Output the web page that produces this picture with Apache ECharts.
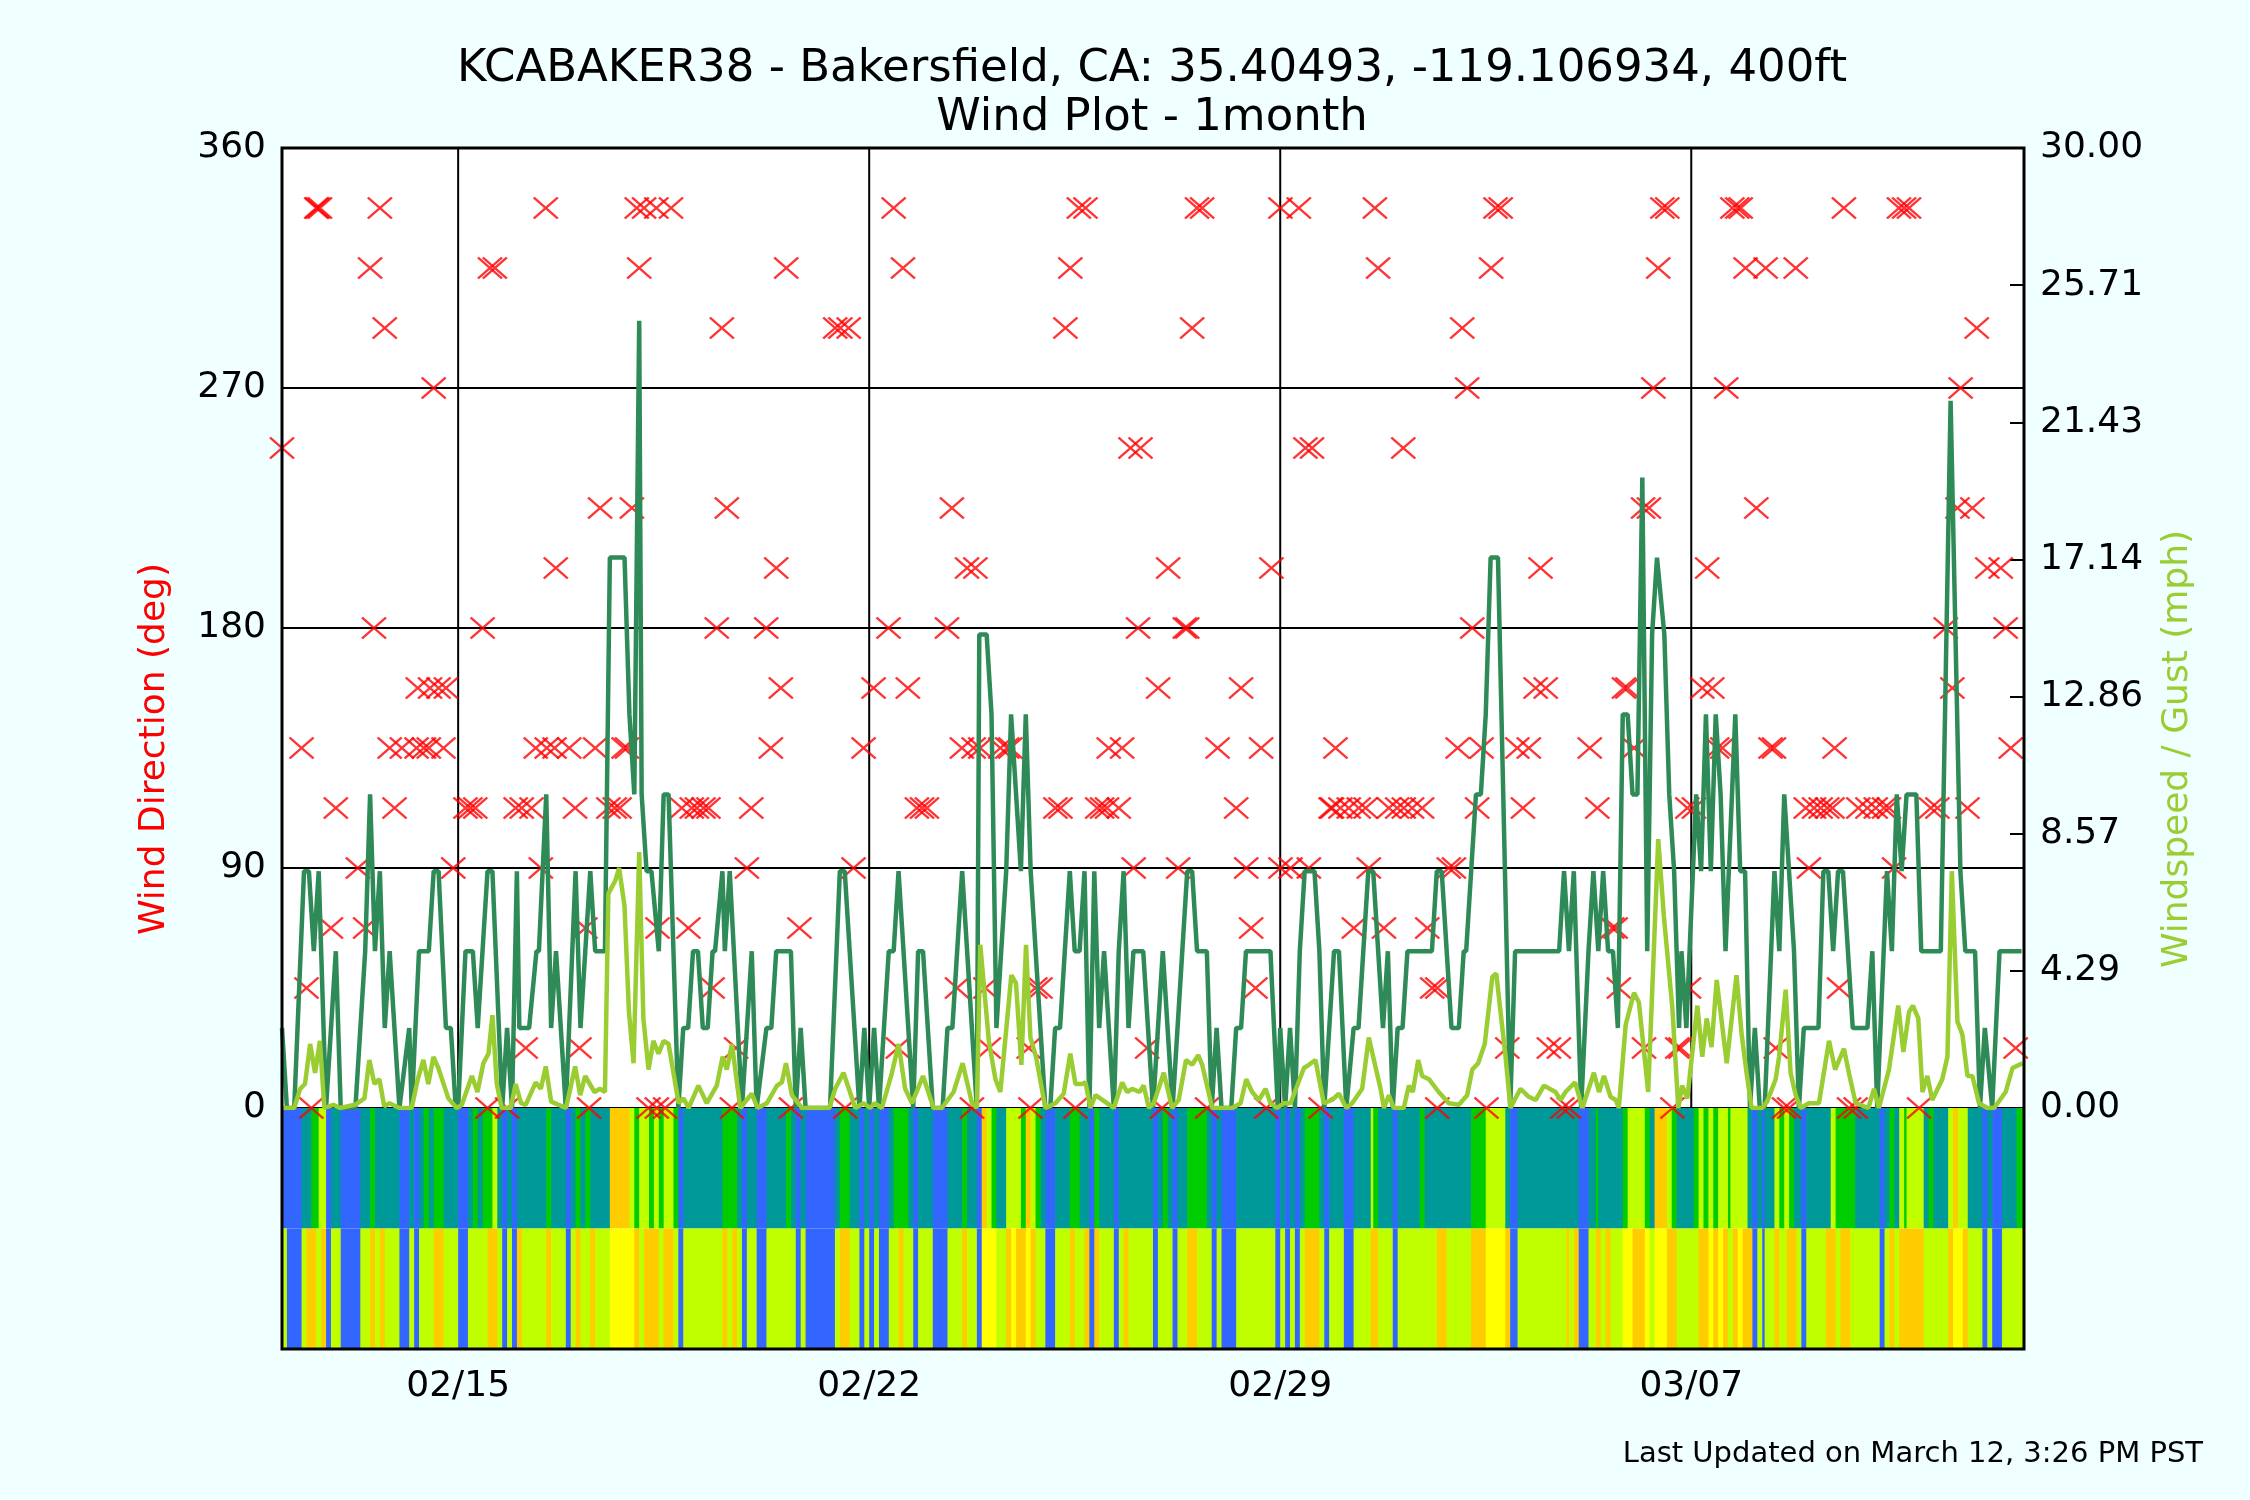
<!DOCTYPE html>
<html><head><meta charset="utf-8">
<script src="https://cdn.jsdelivr.net/npm/echarts@6/dist/echarts.min.js"></script>
<style>html,body{margin:0;padding:0;background:#f0ffff}#c{width:2250px;height:1500px}</style>
</head><body><div id="c"></div><script>
// x values are hours since 2016-02-12 00:00
const xMaxHours = 712;
const titleLine1 = 'KCABAKER38 - Bakersfield, CA: 35.40493, -119.106934, 400ft';
const titleLine2 = 'Wind Plot - 1month';
const footerText = 'Last Updated on March 12, 3:26 PM PST';
const weekTickHours = [72, 240, 408, 576];
const weekTickLabels = ['02/15', '02/22', '02/29', '03/07'];

const gustMph = [
[0,2.5],[2,0],[5,0],[9,7.4],[11,7.4],[13,4.9],[15,7.4],[18,0],[22,4.9],[24,0],[30,0],[34,4.9],[36,9.8],[38,4.9],[40,7.4],[42,2.5],[44,4.9],[48,0],[52,2.5],[53,0],[56,4.9],[60,4.9],[62,7.4],[64,7.4],[67,2.5],[69,2.5],[71,0],
[72,0],[75,4.9],[78,4.9],[80,2.5],[84,7.4],[86,7.4],[90,0],[92,2.5],[94,0],[96,7.4],[97,2.5],[101,2.5],[104,4.9],[105,4.9],[108,9.8],[110,2.5],[112,4.9],[116,0],[120,7.4],[122,2.5],[126,7.4],[128,4.9],[132,4.9],[134,17.2],[140,17.2],
[142,12.3],[144,9.8],[146,24.6],[147,9.8],[149,7.4],[151,7.4],[154,4.9],[156,9.8],[158,9.8],[162,0],[164,2.5],[166,2.5],[168,4.9],[170,4.9],[172,2.5],[174,2.5],[176,4.9],[177,4.9],[180,7.4],[181,4.9],[183,7.4],[188,0],[192,4.9],[194,0],[198,2.5],[200,2.5],[202,4.9],[208,4.9],[210,0],[212,2.5],[214,0],[224,0],[228,7.4],[230,7.4],[236,0],[238,2.5],[240,0],[242,2.5],[244,0],[248,4.9],[250,4.9],[252,7.4],[258,0],[260,4.9],[262,4.9],[266,0],[270,0],[272,2.5],[274,2.5],[278,7.4],[284,0],
[285,14.8],[288,14.8],[290,12.3],[292,2.5],[296,7.4],[298,12.3],[302,7.4],[304,12.3],[306,7.4],[312,0],[314,0],[316,2.5],[318,2.5],[322,7.4],[324,4.9],[326,4.9],[328,7.4],[330,0],[332,7.4],[334,2.5],[336,4.9],[340,0],[342,4.9],[344,7.4],[346,2.5],[348,4.9],[352,4.9],[356,0],[360,4.9],[364,0],[370,7.4],[372,7.4],[374,4.9],[378,4.9],[380,0],[382,2.5],[384,0],[388,0],[390,2.5],[392,2.5],[394,4.9],[404,4.9],[407,0],[408,2.5],[410,0],[412,2.5],[414,0],[416,4.9],[418,7.4],[422,7.4],[424,4.9],[426,0],
[430,4.9],[432,4.9],[435,0],[438,2.5],[440,2.5],[444,7.4],[446,7.4],[450,2.5],[452,4.9],[454,0],[456,2.5],[458,2.5],[460,4.9],[470,4.9],[472,7.4],[474,7.4],[478,2.5],[481,2.5],[483,4.9],[484,4.9],[488,9.8],[490,9.8],[492,12.3],[494,17.2],[497,17.2],[502,0],[504,4.9],[522,4.9],[524,7.4],[526,4.9],[528,7.4],[531,0],[534,4.9],[536,7.4],[538,4.9],[540,7.4],[542,4.9],[544,4.9],[546,2.5],[548,12.3],[550,12.3],[552,9.8],[554,9.8],[556,19.7],[558,4.9],[560,14.8],[562,17.2],[565,14.8],[567,9.8],[569,7.4],[571,2.5],
[572,4.9],[574,2.5],[578,9.8],[580,7.4],[582,12.3],[584,7.4],[586,12.3],[588,9.8],[590,4.9],[594,12.3],[596,7.4],[598,7.4],[600,0],[602,2.5],[604,0],[606,0],[610,7.4],[612,4.9],[614,9.8],[618,4.9],[620,0],[622,2.5],[628,2.5],[630,7.4],[632,7.4],[634,4.9],[636,7.4],[638,7.4],[642,2.5],[648,2.5],[650,4.9],[652,0],[656,7.4],[658,4.9],[660,9.8],[662,7.4],[664,9.8],[668,9.8],[670,4.9],[678,4.9],[682,22.1],[686,7.4],[688,4.9],[692,4.9],[694,0],[696,2.5],[699,0],[702,4.9],[711,4.9]
];

const windMph = [
[0,0],[5,0],[7.4,0.6],[9.4,0.75],[11.5,2.0],[13.5,1.1],[15.5,2.1],[17.3,0],[21,0.1],[23.7,0],[29.8,0.1],[33.7,0.3],[35.7,1.5],[37.8,0.75],[39.8,0.9],[41.8,0.05],[43.9,0.15],[48,0],[53,0],[55.5,0.9],[57.8,1.5],[59.8,0.75],[61.9,1.6],[63.9,1.25],[68,0.3],[71.4,0],[73.5,0.1],[77.6,1.0],[79.9,0.5],[82.3,1.4],[84.4,1.7],[86,2.9],[87.8,0.75],[89.8,0],[93.5,0],[95.5,0.75],[97.7,0.15],[99.6,0.1],[103.7,0.8],[105.8,0.6],[107.8,1.3],[110,0.2],[116.1,0],[119.8,1.3],[121.9,0.4],[123.9,1.0],[127.7,0.5],[130,0.6],[132,0.5],[133.4,6.7],[136.2,7.1],[137.8,7.5],[140,6.3],[141.8,3.0],[143.7,1.4],
[146,8.0],[147.7,2.8],[149.8,1.2],[151.8,2.1],[153.9,1.7],[156,2.1],[158,2.0],[162.1,0.15],[164.1,0.3],[166.2,0],[170.2,0.7],[173.6,0.15],[177.7,0.7],[180.1,1.6],[181.8,1.2],[183.9,2.0],[187.3,0],[192,0.45],[194.4,0],[198.2,0.15],[202.3,0.7],[204.3,0.8],[206,1.4],[208.4,0.4],[212.5,0],[223.7,0],[226.1,0.6],[229.5,1.1],[234.3,0],[237.7,0.15],[240.4,0],[242.2,0.15],[245.2,0],[249.3,1.1],[252,2.0],[254.7,0.6],[257.5,0.15],[262,1.0],[266.3,0],[269.7,0],[274.5,0.5],[278.2,1.4],[282,0.15],[284,0],
[285.4,5.1],[288.9,2.1],[291.6,0.9],[293.6,0.5],[298.1,4.15],[300,3.9],[302.2,1.35],[304.1,5.1],[305.9,2.2],[308.2,1.6],[312,0],[316.1,0.15],[319.5,0.45],[322.2,1.7],[324.3,0.75],[327,0.75],[328.4,0.8],[330.4,0],[332.5,0.4],[337.2,0.15],[340,0],[343.4,0.8],[345.4,0.5],[347.5,0.6],[350.5,0.5],[352.2,0.7],[354.3,0],[356.3,0.15],[360.4,1.1],[363.8,0],[366.5,0.25],[369.5,1.5],[372,1.35],[374.5,1.65],[376.1,1.35],[380.2,0],[388.4,0],[391.8,0.15],[394.1,0.9],[396.5,0.5],[399.3,0.25],[402,0.6],[404,0.15],[406.7,0],[409.5,0.15],[412.2,0.15],[417.7,1.25],[419.7,1.35],[422.4,1.5],[425.8,0.15],[429.2,0.25],
[432,0.45],[435,0],[437.4,0.15],[441.5,0.6],[444.2,2.2],[446.3,1.5],[449,0.6],[450.4,0],[452.4,0.4],[454.4,0],[458.5,0],[460.6,0.7],[462.2,0.5],[464.4,1.5],[466,1.0],[468.8,0.9],[472.8,0.5],[476.9,0.15],[481,0.1],[484.4,0.4],[486.5,1.2],[488.9,1.4],[491.6,2.0],[494.7,4.1],[496.3,4.2],[500.1,1.6],[502.1,0],[506.2,0.6],[509.6,0.35],[512.4,0.25],[515.8,0.7],[520.5,0.5],[522.6,0.25],[524.6,0.5],[528.5,0.8],[531.5,0],[536.2,1.1],[538.3,0.5],[540.3,1.0],[543,0.35],[545.1,0.25],[546.4,0],[549.2,2.6],[552.6,3.6],[554.6,3.3],[558.4,0.5],[562.5,8.4],[564.8,6.0],[568.3,3.1],[570.7,0],
[572.3,0.7],[574.4,0.3],[578.5,3.2],[580.5,1.6],[582.3,2.8],[584.3,1.9],[586.4,4.0],[590.5,1.4],[594.5,4.15],[596.6,2.3],[598.6,1.1],[600.7,0],[605,0],[607,0.2],[610.5,0.9],[611.9,1.6],[614.6,3.7],[616.6,1.1],[618.7,0.4],[620.7,0],[624.1,0.15],[628.2,0.15],[632.3,2.1],[634.8,1.2],[638.4,1.85],[640.7,1.0],[643.2,0.15],[648.4,0],[650.7,0.6],[652.7,0],[656.8,1.2],[660.6,3.2],[662.7,1.75],[665,3.0],[666.6,3.2],[668.8,2.8],[670.5,0.5],[672.5,1.0],[674.5,0.25],[678.6,0.9],[680.7,1.6],[682.5,7.4],[684.8,2.7],[686.8,2.3],[688.9,1.0],[690.9,1.0],[693.6,0.15],[697,0],[699.8,0],[704.5,0.5],[707.3,1.25],[711.4,1.4]
];

const windDirDeg = [
[0,247.5],[8,135],[10,45],[12,0],[14,337.5],[14.6,337.5],[15.5,337.5],[20,67.5],[22,112.5],[31,90],[34,67.5],[36,315],[37.6,180],[40,337.5],[42,292.5],[44,135],[46,112.5],[49,135],[55,135],[55.5,157.5],[58,135],[60,135],[60.5,157.5],[62,270],[64,157.5],[66,135],[67,157.5],[70,90],
[75,112.5],[77,112.5],[79,112.5],[82,180],[84,0],[85,315],[87,315],[92,0],[95.5,112.5],[98,112.5],[99.6,22.5],[102,112.5],[103.7,135],[105.8,90],[107.8,337.5],[108.2,135],[111.4,135],[111.9,202.5],[117.4,135],[119.8,112.5],[121.6,22.5],[124,67.5],[125.5,0],[128,135],[130,225],[133.4,112.5],[136,112.5],[138,112.5],[139.6,135],[141,135],
[143,225],[146,315],[145,337.5],[148,337.5],[153,337.5],[159,337.5],[149.8,0],[153.2,0],[156.6,0],[153.5,67.5],[163.4,112.5],[167.5,112.5],[169.6,112.5],[172.3,112.5],[174.3,112.5],[166.1,67.5],[176,45],[177.7,180],[179.8,292.5],[181.8,225],[183.9,0],[185.6,22.5],[190,90],[191.8,112.5],[197.9,180],[199.8,135],[202,202.5],[203.9,157.5],[206.1,315],[208,0],[211.5,67.5],[226.1,292.5],[228.2,292.5],[231.6,292.5],[230.2,0],[233.6,90],[237.7,135],[241.8,157.5],[247.9,180],[250,337.5],[251.7,22.5],[253.8,315],[255.8,157.5],[259.5,112.5],[261.6,112.5],[263.6,112.5],[271.8,180],[273.8,225],[275.9,45],[277.9,135],[280,202.5],[282,0],[282.7,135],
[283.4,202.5],[285.4,135],[287.5,45],[288.9,22.5],[293.6,135],[296.4,135],[297.7,135],[305.2,22.5],[305.9,0],[307.9,45],[310,45],[316.1,112.5],[318.2,112.5],[320.2,292.5],[322.2,315],[324.3,0],[325.7,337.5],[328.4,337.5],[333.2,112.5],[335.2,112.5],[337.2,112.5],[337.9,135],[342,112.5],[343.4,135],[346.8,247.5],[348.1,90],[349.9,180],[350.9,247.5],[353.6,22.5],[358.1,157.5],[359.7,0],[362.2,202.5],[366.3,90],[369,180],[370,180],[372,292.5],[374,337.5],[376.1,337.5],[378.1,0],[382.4,135],[390,112.5],[392,157.5],[394.1,90],[396.1,67.5],[397.9,45],[400.2,135],[402.3,0],[404.4,202.5],[408.1,337.5],[408.1,90],[412.2,90],[415.6,337.5],[418.3,247.5],[419.7,90],[421,247.5],[424.5,0],[428.6,112.5],[430.6,135],
[429.2,112.5],[432.6,112.5],[436,112.5],[438.1,67.5],[440.1,112.5],[442.9,112.5],[444.2,90],[446.7,337.5],[448,315],[450.4,67.5],[452.4,112.5],[455.8,112.5],[458.3,247.5],[458.5,112.5],[461.9,112.5],[466,112.5],[468.1,67.5],[470.1,45],[472.2,45],[472.2,0],[476.9,90],[479,90],[480.5,135],[482.4,292.5],[484.4,270],[486.5,180],[488.5,112.5],[490.3,135],[492.3,0],[494.2,315],[496,337.5],[498.1,337.5],[500.8,22.5],[504.9,135],[507.2,112.5],[509.6,135],[512.4,157.5],[514.4,202.5],[516.5,157.5],[517.8,22.5],[521.9,22.5],[523.3,0],[526,0],[534.5,135],[537.6,112.5],[543.7,67.5],[545.1,67.5],[546.4,45],[548.5,157.5],[549.9,157.5],[552.6,135],[556.3,225],[556.7,22.5],[558.7,225],[560.5,270],[562.5,315],[564.2,337.5],[566.2,337.5],[568.3,0],[570.3,22.5],
[571.6,22.5],[574.4,112.5],[575.1,45],[577.1,112.5],[580.5,157.5],[582.5,202.5],[584.6,157.5],[586.6,135],[588.7,135],[590.3,270],[592.8,337.5],[594.8,337.5],[596.2,337.5],[598.2,315],[602.6,225],[606.4,315],[608.4,135],[609.8,135],[610.5,22.5],[613.9,0],[616,0],[618.7,315],[622.8,112.5],[624.1,90],[626.2,112.5],[628.9,112.5],[631.6,112.5],[633.7,112.5],[634.6,135],[636.4,45],[638.4,337.5],[640.5,0],[643.2,0],[644.3,112.5],[648,112.5],[651.4,112.5],[654.8,112.5],[656.8,112.5],[658.9,90],[660.9,337.5],[663,337.5],[665,337.5],[669.1,0],[673.9,112.5],[676.6,112.5],[680,180],[682.7,157.5],[684.8,225],[686.1,270],[688.9,112.5],[690.9,225],[692.7,292.5],[697,202.5],[702.5,202.5],[704.5,180],[706.6,135],[708.6,22.5]
];

// colour bands: [start hour, colour key]; each run lasts until the next start
const bandTopRuns = [
[0,'B'],[8,'T'],[12,'G'],[15,'L'],[18,'B'],[20,'T'],[24,'B'],[32,'T'],[36,'G'],[38,'T'],[48,'B'],[52,'T'],[54,'B'],[56,'T'],[58,'G'],[60,'T'],[62,'G'],[66,'T'],[72,'B'],[76,'T'],[78,'G'],[80,'T'],[82,'G'],[86,'L'],[88,'T'],[90,'B'],[92,'T'],[94,'B'],[96,'T'],[108,'G'],[110,'T'],[116,'B'],[118,'T'],[120,'G'],[122,'T'],[124,'G'],[126,'T'],[134,'O'],[142,'L'],[144,'G'],[146,'L'],[150,'G'],[152,'L'],[154,'G'],[156,'L'],[160,'G'],[162,'B'],[164,'T'],
[180,'G'],[186,'T'],[188,'B'],[190,'T'],[194,'B'],[198,'T'],[206,'G'],[208,'T'],[210,'B'],[212,'T'],[214,'B'],[226,'T'],[228,'G'],[232,'T'],[236,'B'],[238,'T'],[240,'B'],[242,'T'],[244,'B'],[248,'T'],[250,'G'],[256,'T'],[258,'B'],[260,'T'],[266,'B'],[272,'T'],[278,'G'],[280,'T'],[284,'B'],[286,'O'],[288,'L'],[290,'G'],[292,'T'],[296,'L'],[302,'G'],[304,'O'],[306,'L'],[308,'G'],[310,'T'],[312,'B'],[316,'T'],[322,'G'],[326,'T'],[330,'B'],[332,'G'],[334,'T'],[340,'B'],[342,'T'],[356,'B'],
[358,'T'],[360,'G'],[362,'T'],[364,'B'],[366,'T'],[370,'G'],[378,'T'],[380,'B'],[382,'T'],[384,'B'],[390,'T'],[406,'B'],[408,'T'],[410,'B'],[412,'T'],[414,'B'],[416,'T'],[418,'G'],[424,'T'],[426,'B'],[428,'T'],[434,'B'],[438,'T'],[445,'L'],[446,'G'],[448,'T'],[454,'B'],[456,'T'],[465,'G'],[467,'T'],[486,'G'],[492,'L'],[500,'T'],[502,'B'],[505,'T'],[530,'B'],
[534,'T'],[537,'G'],[538,'T'],[548,'G'],[550,'L'],[557,'G'],[559,'T'],[561,'O'],[566,'L'],[568,'G'],[570,'T'],[577,'G'],[579,'L'],[581,'G'],[583,'L'],[585,'G'],[587,'L'],[591,'G'],[592,'L'],[599,'T'],[601,'B'],[603,'T'],[605,'B'],[606,'T'],[610,'L'],[612,'G'],[614,'L'],[616,'G'],[618,'T'],[621,'B'],[623,'T'],[633,'L'],[635,'G'],[643,'T'],[653,'B'],[655,'T'],[657,'G'],[659,'T'],[661,'L'],[663,'G'],[664,'L'],[671,'T'],[673,'G'],[675,'T'],[681,'L'],[683,'O'],[685,'L'],[689,'T'],[695,'B'],[697,'T'],[699,'B'],[703,'T'],[709,'G']
];
const bandBottomRuns = [
[0,'L'],[2,'B'],[8,'L'],[10,'O'],[14,'L'],[16,'O'],[18,'B'],[20,'L'],[24,'B'],[32,'L'],[36,'O'],[38,'L'],[40,'O'],[42,'L'],[48,'B'],[52,'L'],[54,'B'],[56,'L'],[62,'O'],[66,'L'],[72,'B'],[76,'L'],[84,'O'],[88,'L'],[90,'B'],[92,'L'],[94,'B'],[96,'O'],[98,'L'],[108,'O'],[110,'L'],[116,'B'],[118,'L'],[120,'O'],[122,'L'],[126,'O'],[128,'L'],[134,'Y'],[144,'O'],[146,'L'],[148,'O'],[154,'L'],[156,'O'],[160,'L'],[162,'B'],[164,'L'],
[180,'O'],[182,'L'],[184,'O'],[186,'L'],[188,'B'],[190,'L'],[194,'B'],[198,'L'],[210,'B'],[212,'L'],[214,'B'],[226,'L'],[228,'O'],[232,'L'],[236,'B'],[238,'L'],[240,'B'],[242,'L'],[244,'B'],[248,'L'],[252,'O'],[254,'L'],[258,'B'],[260,'L'],[266,'B'],[272,'L'],[278,'O'],[280,'L'],[284,'B'],[286,'Y'],[292,'L'],[296,'O'],[298,'Y'],[300,'O'],[304,'Y'],[306,'O'],[308,'L'],[312,'B'],[316,'L'],[322,'O'],[324,'L'],[328,'O'],[330,'B'],[332,'O'],[334,'L'],[340,'B'],[342,'L'],[344,'O'],[346,'L'],[356,'B'],
[358,'L'],[364,'B'],[366,'L'],[370,'O'],[374,'L'],[380,'B'],[382,'L'],[384,'B'],[390,'L'],[406,'B'],[408,'L'],[410,'B'],[412,'L'],[414,'B'],[416,'L'],[418,'O'],[424,'L'],[426,'B'],[428,'L'],[434,'B'],[438,'L'],[445,'O'],[448,'L'],[454,'B'],[456,'L'],[472,'O'],[476,'L'],[486,'O'],[492,'Y'],[500,'O'],[502,'B'],[505,'L'],[525,'O'],[526,'L'],[528,'O'],[530,'B'],
[534,'L'],[537,'O'],[539,'L'],[541,'O'],[543,'L'],[548,'Y'],[552,'O'],[557,'Y'],[559,'L'],[561,'Y'],[566,'O'],[570,'L'],[579,'O'],[583,'Y'],[585,'O'],[587,'Y'],[589,'O'],[591,'L'],[593,'O'],[595,'Y'],[597,'O'],[601,'B'],[603,'L'],[605,'B'],[606,'L'],[610,'O'],[612,'L'],[615,'O'],[619,'L'],[621,'B'],[623,'L'],[631,'O'],[635,'L'],[637,'O'],[641,'L'],[653,'B'],[655,'L'],[657,'O'],[659,'L'],[661,'O'],[671,'L'],[681,'O'],[683,'Y'],[687,'O'],[689,'L'],[695,'B'],[697,'L'],[699,'B'],[703,'L']
];
const bandColors = {B:'#3366ff', T:'#009999', G:'#00cc00', L:'#c0ff00', Y:'#ffff00', O:'#ffcc00'};

const FONT = '"DejaVu Sans", sans-serif';
const G = {left:282, top:148, right:2024, zero:1108, bottom:1349};

function runsToRects(runs, row, out, colors) {
  for (let i = 0; i < runs.length; i++) {
    const s = runs[i][0];
    const e = i + 1 < runs.length ? runs[i + 1][0] : xMaxHours;
    out.push([s, e, row]);
    colors.push(bandColors[runs[i][1]]);
  }
}
const bandRects = [], bandRectColors = [];
runsToRects(bandTopRuns, 1, bandRects, bandRectColors);
runsToRects(bandBottomRuns, 0, bandRects, bandRectColors);

const chart = echarts.init(document.getElementById('c'), null, {renderer:'canvas'});
const axisLabelStyle = {color:'#000', fontSize:36, fontFamily:FONT};
chart.setOption({
  backgroundColor:'#f0ffff',
  animation:false,
  grid:[
    {left:G.left, top:G.top, width:G.right-G.left, height:G.zero-G.top, show:true, backgroundColor:'#ffffff', borderWidth:0},
    {left:G.left, top:G.zero, width:G.right-G.left, height:G.bottom-G.zero, show:false}
  ],
  xAxis:[
    {type:'value', gridIndex:0, position:'top', min:0, max:xMaxHours, interval:24,
     axisLine:{show:false}, axisLabel:{show:false}, splitLine:{show:false},
     axisTick:{show:true, inside:true, length:10, lineStyle:{color:'#000', width:2}}},
    {type:'value', gridIndex:1, position:'bottom', min:0, max:xMaxHours, interval:24,
     axisLine:{show:false}, axisTick:{show:false}, splitLine:{show:false},
     axisLabel:Object.assign({margin:20, formatter:function(v){const i = weekTickHours.indexOf(v); return i >= 0 ? weekTickLabels[i] : '';}}, axisLabelStyle)}
  ],
  yAxis:[
    {type:'value', gridIndex:0, position:'left', min:0, max:360, interval:90,
     axisLine:{show:false}, axisTick:{show:true, inside:true, length:10, lineStyle:{color:'#000', width:2}},
     axisLabel:Object.assign({margin:16}, axisLabelStyle),
     splitLine:{show:true, lineStyle:{color:'#000', width:2}}},
    {type:'value', gridIndex:0, position:'right', min:0, max:30, interval:30/7,
     axisLine:{show:false}, axisTick:{show:true, inside:true, length:14, lineStyle:{color:'#000', width:2}},
     axisLabel:Object.assign({margin:16, formatter:function(v){return v.toFixed(2);}}, axisLabelStyle),
     splitLine:{show:false}},
    {type:'value', gridIndex:1, min:0, max:2, show:false}
  ],
  series:[
    {type:'custom', name:'bands', xAxisIndex:1, yAxisIndex:2, z:1, silent:true,
     data:bandRects, encode:{x:[0,1], y:2},
     renderItem:function(params, api){
       const p0 = api.coord([api.value(0), api.value(2) + 1]);
       const p1 = api.coord([api.value(1), api.value(2)]);
       return {type:'rect', shape:{x:p0[0], y:p0[1], width:p1[0]-p0[0]+0.7, height:p1[1]-p0[1]},
               style:{fill:bandRectColors[params.dataIndex]}};
     }},
    {type:'custom', name:'weeks', xAxisIndex:0, yAxisIndex:0, z:2, silent:true,
     data:weekTickHours.map(h => [h, 0]), encode:{x:0, y:1},
     renderItem:function(params, api){
       const a = api.coord([api.value(0), 0]);
       const b = api.coord([api.value(0), 360]);
       return {type:'line', shape:{x1:a[0], y1:a[1], x2:b[0], y2:b[1]}, style:{stroke:'#000', lineWidth:2}};
     }},
    {type:'scatter', name:'Wind Direction', xAxisIndex:0, yAxisIndex:0, z:3, clip:false, silent:true,
     data:windDirDeg, symbol:'path://M0,0L10,10M10,0L0,10', symbolSize:[24,21],
     itemStyle:{color:'rgba(0,0,0,0)', borderColor:'#ff0000', borderWidth:2.4}},
    {type:'line', name:'Gust', xAxisIndex:0, yAxisIndex:1, z:4, data:gustMph, showSymbol:false, symbol:'none', silent:true,
     lineStyle:{color:'#2e8b57', width:4.5}},
    {type:'line', name:'Windspeed', xAxisIndex:0, yAxisIndex:1, z:5, data:windMph, showSymbol:false, symbol:'none', silent:true,
     lineStyle:{color:'#9acd32', width:4.5}}
  ],
  graphic:[
    {type:'text', x:1152, y:69, z:10, style:{text:titleLine1, fill:'#000', font:'45px '+FONT, align:'center', verticalAlign:'middle', textAlign:'center', textVerticalAlign:'middle'}},
    {type:'text', x:1152, y:118, z:10, style:{text:titleLine2, fill:'#000', font:'45px '+FONT, align:'center', verticalAlign:'middle', textAlign:'center', textVerticalAlign:'middle'}},
    {type:'text', x:155, y:749, rotation:Math.PI/2, z:10, style:{text:'Wind Direction (deg)', fill:'#ff0000', font:'36px '+FONT, align:'center', verticalAlign:'middle', textAlign:'center', textVerticalAlign:'middle'}},
    {type:'text', x:2178, y:749, rotation:Math.PI/2, z:10, style:{text:'Windspeed / Gust (mph)', fill:'#9acd32', font:'36px '+FONT, align:'center', verticalAlign:'middle', textAlign:'center', textVerticalAlign:'middle'}},
    {type:'text', x:2203, y:1454, z:10, style:{text:footerText, fill:'#000', font:'29px '+FONT, align:'right', verticalAlign:'middle', textAlign:'right', textVerticalAlign:'middle'}},
    {type:'rect', z:20, silent:true, shape:{x:G.left, y:G.top, width:G.right-G.left, height:G.bottom-G.top}, style:{fill:'none', stroke:'#000', lineWidth:3}}
  ]
});
</script></body></html>
